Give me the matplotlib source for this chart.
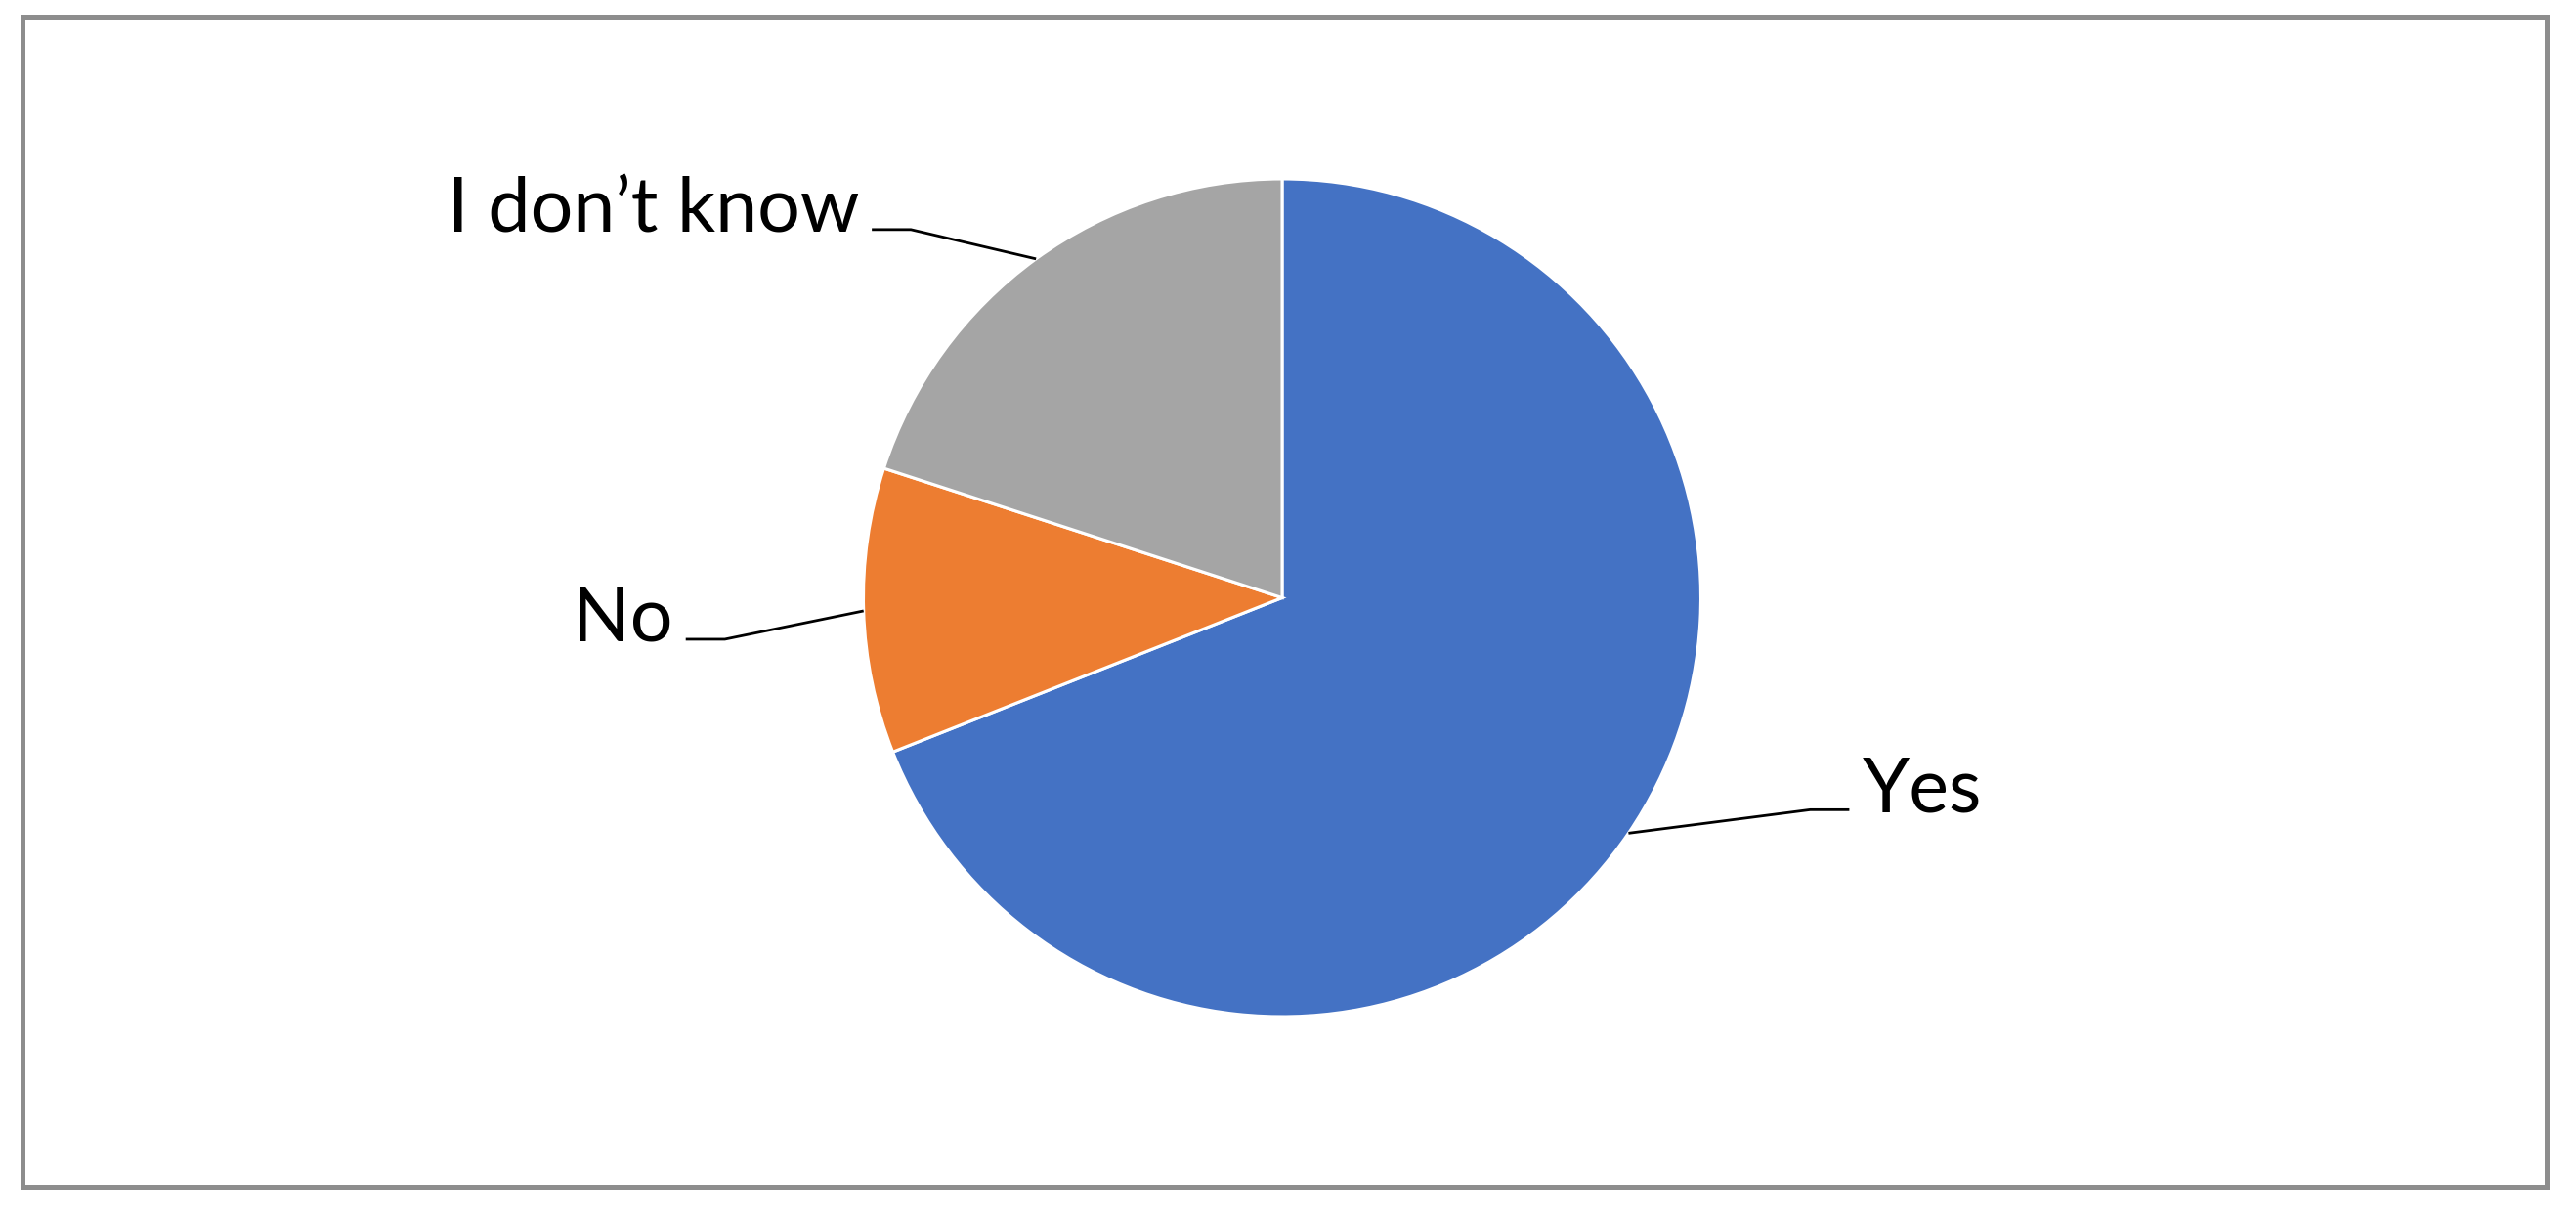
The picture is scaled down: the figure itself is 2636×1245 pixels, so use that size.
import matplotlib
matplotlib.use("Agg")
import matplotlib.pyplot as plt
from matplotlib.patches import Rectangle
import numpy as np

categories = ["Yes", "No", "I don\u2019t know"]
values = [69, 11, 20]
colors = ["#4472C4", "#ED7D31", "#A5A5A5"]

W, H = 2636, 1245
plt.rcParams['font.family'] = ['Lato', 'DejaVu Sans']

fig = plt.figure(figsize=(W / 100, H / 100), dpi=100)
ax = fig.add_axes([0, 0, 1, 1])

cx, cy, R = 1312, H - 611.5, 428.5
wedges, _ = ax.pie(values, colors=colors, startangle=90, counterclock=False,
                   center=(cx, cy), radius=R,
                   wedgeprops=dict(edgecolor="white", linewidth=2.2))
ax.set_xlim(0, W)
ax.set_ylim(0, H)
ax.set_aspect('equal')
ax.axis('off')

# label layout: elbow offset from wedge edge midpoint (pixels), side
layout = {
    "Yes": ((186, 24), 'right'),
    "No": ((-142, -29), 'left'),
    "I don\u2019t know": ((-128, 30), 'left'),
}
seg_len = 40
gap = 13
for w, cat in zip(wedges, categories):
    mid = np.deg2rad((w.theta1 + w.theta2) / 2)
    ex, ey = cx + R * np.cos(mid), cy + R * np.sin(mid)
    (dx, dy), side = layout[cat]
    bx, by = ex + dx, ey + dy
    sgn = 1 if side == 'right' else -1
    hx = bx + sgn * seg_len
    ax.plot([ex, bx, hx], [ey, by, by], color="black", lw=2.0,
            solid_capstyle='butt', zorder=3)
    tx = hx + sgn * gap
    ax.text(tx, by - 2, cat, ha='left' if side == 'right' else 'right',
            va='baseline', fontsize=55.5, color="black")

ax.add_patch(Rectangle((22.5, H - 1214), 2605.5 - 22.5, 1214 - 16.5,
                       fill=False, edgecolor="#8d8d8d", lw=3.6, zorder=5))

fig.savefig("out.png", dpi=100, facecolor="white")
